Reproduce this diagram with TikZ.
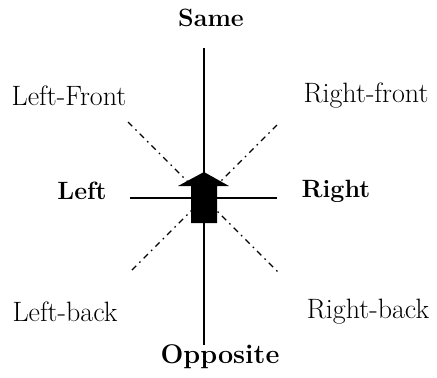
\documentclass[tikz,border=0pt]{standalone}
\usepackage{fontspec}
\usepackage{tikz}
\usetikzlibrary{calc}

\begin{document}
\begin{tikzpicture}[
  x=1pt, y=-1pt,
  axis/.style={line width=1.4pt},
  diag/.style={line width=1.3pt, dash pattern=on 6pt off 4.5pt on 1.6pt off 4.5pt},
  main/.style={font=\fontsize{25}{28}\selectfont\bfseries},
  side/.style={font=\fontsize{28}{32}\selectfont}
]
\useasboundingbox (0,0) rectangle (437,378);

% centre and line ends
\coordinate (c) at (204,198);
\coordinate (top) at (204,48);
\coordinate (bot) at (204,345);
\coordinate (lft) at (130,198);
\coordinate (rgt) at (277,198);
\coordinate (ul) at ($(c)+(-76,-76)$);
\coordinate (ur) at ($(c)+(73,-73)$);
\coordinate (ll) at ($(c)+(-74,74)$);
\coordinate (lr) at ($(c)+(74,74)$);

% labels
\node[main] (same) at (211,18) {Same};
\node[main, font=\fontsize{27}{30}\selectfont\bfseries] (opp) at (220,357) {Opposite};
\node[main] (left) at (82,191) {Left};
\node[main] (right) at (336,191) {Right};
\node[side] (lfront) at (69,96) {Left-Front};
\node[side] (rfront) at (366,96) {Right-front};
\node[side] (lback) at (65,312) {Left-back};
\node[side] (rback) at (368,312) {Right-back};

% axes
\draw[axis] (top) -- (bot);
\draw[axis] (lft) -- (rgt);
\draw[diag] (ul) -- (lr);
\draw[diag] (ur) -- (ll);

% arrow
\fill (204,172) -- (229,186) -- (217,186) -- (217,223)
  -- (191,223) -- (191,186) -- (178,186) -- cycle;
\end{tikzpicture}
\end{document}
